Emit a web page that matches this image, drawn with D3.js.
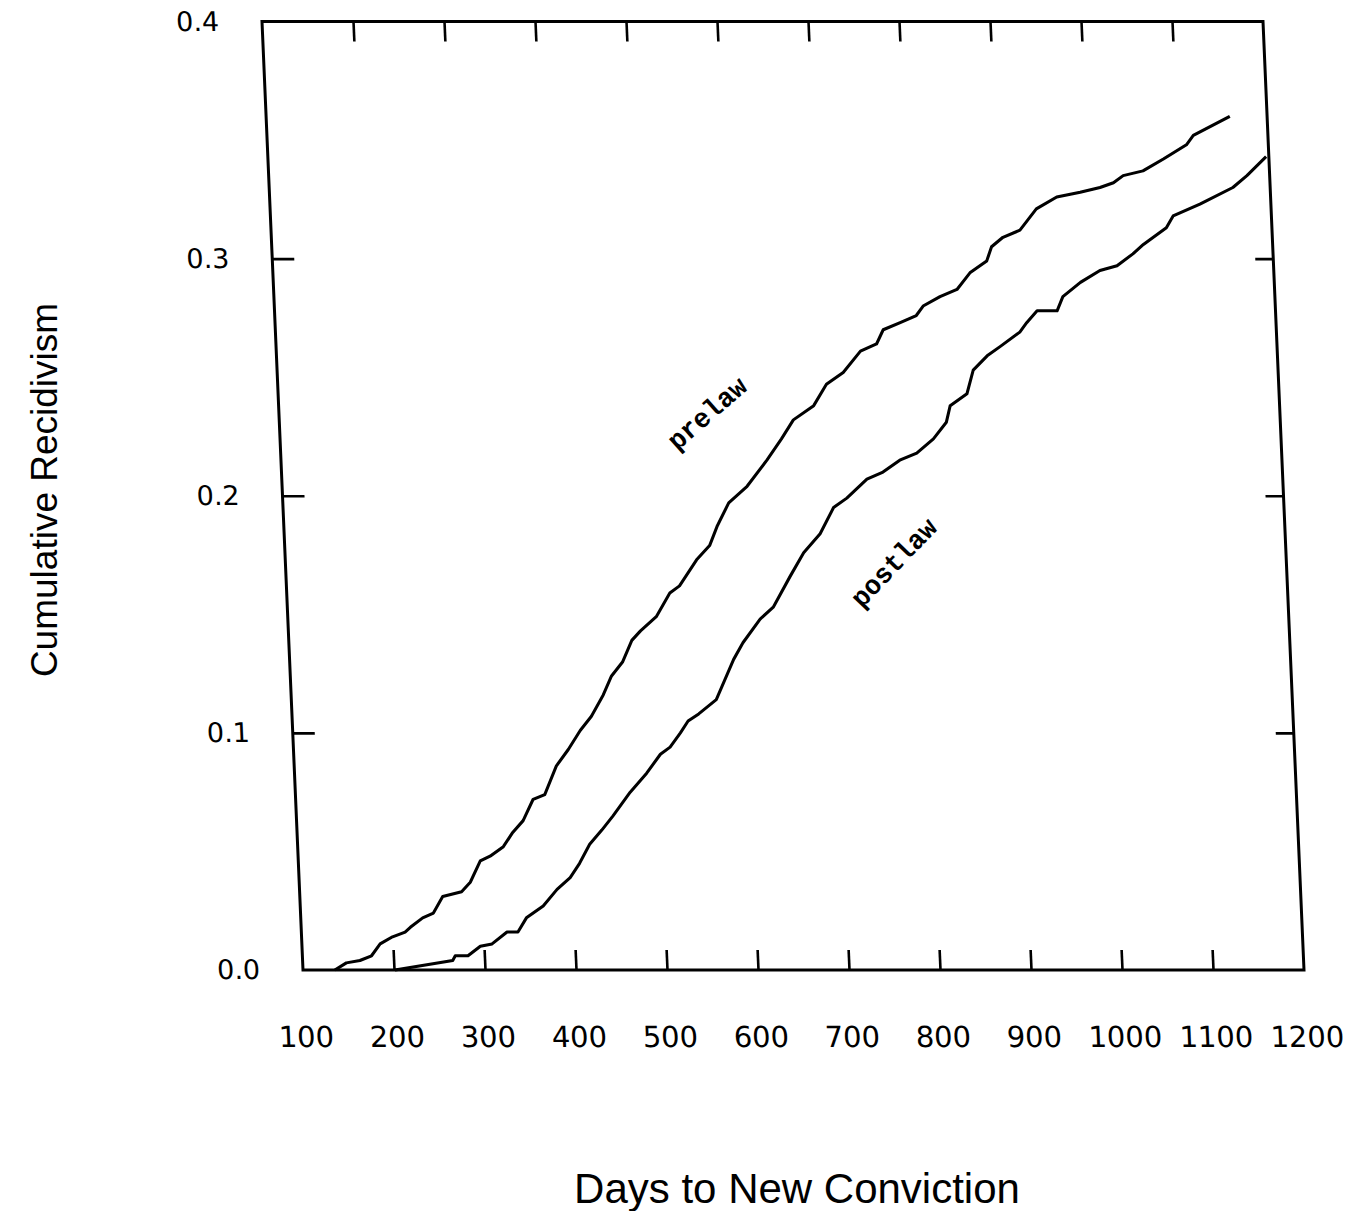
<!DOCTYPE html>
<html>
<head>
<meta charset="utf-8">
<script src="https://cdn.jsdelivr.net/npm/d3@7"></script>
<style>
  body { margin: 0; background: #fff; }
</style>
</head>
<body>
<div id="chart"></div>
<script>
// Cumulative recidivism, prelaw vs postlaw
const prelawDays = [135,148,163,176,186,200,214,220,234,246,257,278,288,300,311,326,337,349,361,374,388,402,416,429,443,453,466,477,487,505,521,532,552,567,576,590,611,634,651,665,688,703,722,742,760,768,787,805,813,832,851,866,885,891,904,923,942,965,991,1013,1028,1039,1061,1084,1110,1118,1159];
const prelawRate = [0.000,0.003,0.004,0.006,0.011,0.014,0.016,0.018,0.022,0.024,0.031,0.033,0.037,0.046,0.048,0.052,0.058,0.063,0.072,0.074,0.086,0.093,0.101,0.107,0.116,0.124,0.130,0.139,0.143,0.149,0.159,0.162,0.173,0.179,0.187,0.197,0.204,0.215,0.224,0.232,0.238,0.247,0.252,0.261,0.264,0.270,0.273,0.276,0.280,0.284,0.287,0.294,0.299,0.305,0.309,0.312,0.321,0.326,0.328,0.330,0.332,0.335,0.337,0.342,0.348,0.352,0.360];

const postlawDays = [201,265,268,282,296,309,326,338,348,367,383,398,409,421,435,448,456,468,487,503,514,526,535,547,567,588,599,619,634,654,670,689,705,720,743,761,780,799,818,833,838,857,865,881,896,918,926,938,960,967,987,1009,1028,1046,1058,1084,1092,1122,1159,1175,1197];
const postlawRate = [0.000,0.004,0.006,0.006,0.010,0.011,0.016,0.016,0.022,0.027,0.034,0.039,0.045,0.053,0.059,0.065,0.069,0.075,0.083,0.091,0.094,0.100,0.105,0.108,0.114,0.131,0.138,0.148,0.153,0.166,0.176,0.184,0.195,0.199,0.207,0.210,0.215,0.218,0.224,0.231,0.238,0.243,0.253,0.259,0.263,0.269,0.273,0.278,0.278,0.284,0.290,0.295,0.297,0.302,0.306,0.313,0.318,0.323,0.330,0.335,0.343];

const xTicks = [100,200,300,400,500,600,700,800,900,1000,1100,1200];
const yTicks = [0.0,0.1,0.2,0.3,0.4];
const seriesNames = ['prelaw','postlaw'];
const labelAt = [[570, 0.235], [768, 0.172]];

const totalW = 1362, totalH = 1211;
const W = 1001, H = 948.5;
// the scan is slightly sheared: left edge leans right going down
const shear = 41 / H;

const svg = d3.select('#chart')
  .append('svg')
  .attr('width', totalW)
  .attr('height', totalH)
  .style('background', '#fff');

const g = svg.append('g')
  .attr('transform', `translate(262,21.5) matrix(1,0,${shear},1,0,0)`);

const x = d3.scaleLinear().domain([100, 1200]).range([0, W]);
const y = d3.scaleLinear().domain([0, 0.4]).range([H, 0]);

const interiorX = xTicks.slice(1, -1);
const interiorY = yTicks.slice(1, -1);

function styleAxis(sel, fontSize) {
  sel.select('.domain').remove();
  sel.attr('font-family', '"DejaVu Sans", sans-serif')
    .attr('font-size', fontSize);
  sel.selectAll('.tick line')
    .attr('stroke', '#000')
    .attr('stroke-width', 2.6);
  sel.selectAll('.tick text').attr('fill', '#000');
}

// bottom axis: labels at every hundred, tick marks only inside
const xAxisG = g.append('g')
  .attr('transform', `translate(0,${H})`)
  .call(d3.axisBottom(x).tickValues(xTicks).tickSizeInner(-20).tickSizeOuter(0).tickPadding(56).tickFormat(d3.format('d')));
styleAxis(xAxisG, 29);
xAxisG.selectAll('.tick line').filter(d => !interiorX.includes(d)).remove();

// left axis
const yAxisG = g.append('g')
  .call(d3.axisLeft(y).tickValues(yTicks).tickSizeInner(-22).tickSizeOuter(0).tickPadding(43).tickFormat(d3.format('.1f')));
styleAxis(yAxisG, 27);
yAxisG.selectAll('.tick line').filter(d => !interiorY.includes(d)).remove();

// top and right: ticks only
const topG = g.append('g')
  .call(d3.axisTop(x).tickValues(interiorX).tickSizeInner(-20).tickSizeOuter(0).tickFormat(''));
styleAxis(topG, 10);
const rightG = g.append('g')
  .attr('transform', `translate(${W},0)`)
  .call(d3.axisRight(y).tickValues(interiorY).tickSizeInner(-18).tickSizeOuter(0).tickFormat(''));
styleAxis(rightG, 10);

// frame
g.append('rect')
  .attr('x', 0).attr('y', 0)
  .attr('width', W).attr('height', H)
  .attr('fill', 'none')
  .attr('stroke', '#000')
  .attr('stroke-width', 3);

const line = d3.line()
  .x(d => x(d[0]))
  .y(d => y(d[1]));

const series = [
  d3.zip(prelawDays, prelawRate),
  d3.zip(postlawDays, postlawRate)
];

g.selectAll('.curve')
  .data(series)
  .enter()
  .append('path')
  .attr('class', 'curve')
  .attr('fill', 'none')
  .attr('stroke', '#000')
  .attr('stroke-width', 3)
  .attr('stroke-linejoin', 'round')
  .attr('d', line);

// curve labels in typewriter face
const angles = [-40, -45];
g.selectAll('.curve-label')
  .data(seriesNames)
  .enter()
  .append('text')
  .attr('class', 'curve-label')
  .attr('transform', (d, i) => `translate(${x(labelAt[i][0])},${y(labelAt[i][1])}) rotate(${angles[i]})`)
  .attr('text-anchor', 'middle')
  .attr('dy', '0.35em')
  .attr('font-family', '"Liberation Mono", "Courier New", monospace')
  .attr('font-weight', 'bold')
  .attr('font-size', 27)
  .attr('fill', '#000')
  .text(d => d);

// axis titles
svg.append('text')
  .attr('transform', 'translate(57,490) rotate(-90)')
  .attr('text-anchor', 'middle')
  .attr('font-family', '"Liberation Sans", Arial, sans-serif')
  .attr('font-size', 37)
  .attr('fill', '#000')
  .text('Cumulative Recidivism');

svg.append('text')
  .attr('x', 797)
  .attr('y', 1203)
  .attr('text-anchor', 'middle')
  .attr('font-family', '"Liberation Sans", Arial, sans-serif')
  .attr('font-size', 42)
  .attr('fill', '#000')
  .text('Days to New Conviction');
</script>
</body>
</html>
